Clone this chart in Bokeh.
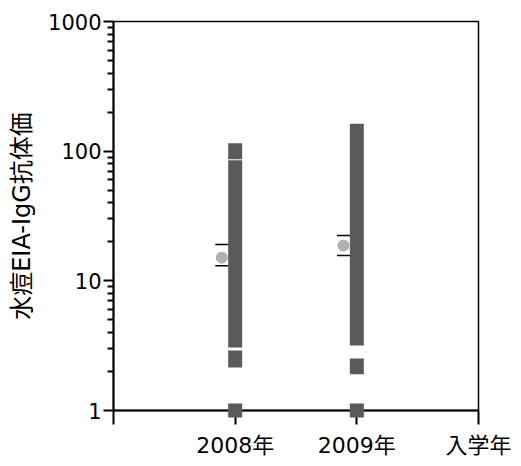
from bokeh.plotting import figure
from bokeh.models import FixedTicker, Range1d
from bokeh.transform import dodge
from bokeh.embed import file_html
from bokeh.resources import INLINE

# ---- data ----
x_ticks = [0, 1, 2, 3]
x_tick_labels = ["", "2008年", "2009年", "入学年"]
y_ticks = [1, 10, 100, 1000]
y_tick_labels = ["1", "10", "100", "1000"]
y_minor_ticks = [2, 3, 4, 5, 6, 7, 8, 9,
                 20, 30, 40, 50, 60, 70, 80, 90,
                 200, 300, 400, 500, 600, 700, 800, 900]

# distribution bars (segments)
bar_x = [1, 1, 1, 2, 2]
bar_bottom = [2.15, 3.06, 86.5, 1.9, 3.17]
bar_top = [2.9, 85.0, 115.0, 2.52, 163.0]

# values at lower limit
base_x = [1, 2]
base_y = [1, 1]

# mean with error
mean_x = [1, 2]
mean_y = [15.1, 18.7]
err_upper = [19.1, 22.4]
err_lower = [13.1, 15.7]

FONT = "'DejaVu Sans', 'Noto Sans CJK JP'"

p = figure(width=521, height=462, y_axis_type="log",
           x_range=Range1d(0, 3), y_range=Range1d(1, 1000),
           output_backend="svg", toolbar_location=None,
           min_border_left=113, min_border_right=43,
           min_border_top=21, min_border_bottom=52)

p.xgrid.visible = False
p.ygrid.visible = False
p.outline_line_color = "black"
p.outline_line_width = 1.5
p.background_fill_color = "white"
p.border_fill_color = "white"

# bars
p.vbar(x=bar_x, bottom=bar_bottom, top=bar_top, width=0.115,
       fill_color="#5a5a5a", line_color=None)

# squares at 1
p.scatter(x=base_x, y=base_y, marker="square", size=14,
          fill_color="#5a5a5a", line_color=None, level="overlay")

# means
src = dict(x=mean_x, y=mean_y, up=err_upper, lo=err_lower)
p.scatter(x=dodge("x", -0.11), y="up", source=src, marker="dash", size=13,
          line_color="black", line_width=1.5)
p.scatter(x=dodge("x", -0.11), y="lo", source=src, marker="dash", size=13,
          line_color="black", line_width=1.5)
p.scatter(x=dodge("x", -0.11), y="y", source=src, marker="circle", size=12,
          fill_color="#b0b0b0", line_color=None)

# x axis
xa = p.xaxis[0]
xa.ticker = FixedTicker(ticks=x_ticks, minor_ticks=[])
xa.major_label_overrides = {t: l for t, l in zip(x_ticks, x_tick_labels)}
xa.major_tick_out = 14
xa.major_tick_in = 0
xa.minor_tick_out = 0
xa.major_tick_line_width = 2
xa.axis_line_width = 2
xa.major_label_standoff = 8
xa.major_label_text_font = FONT
xa.major_label_text_font_size = "22px"
xa.major_label_text_color = "black"

# y axis
ya = p.yaxis[0]
ya.ticker = FixedTicker(ticks=y_ticks, minor_ticks=y_minor_ticks)
ya.major_label_overrides = {t: l for t, l in zip(y_ticks, y_tick_labels)}
ya.major_tick_out = 10
ya.major_tick_in = 0
ya.minor_tick_out = 6
ya.minor_tick_in = 0
ya.major_tick_line_width = 2
ya.minor_tick_line_width = 2
ya.axis_line_width = 2
ya.major_label_standoff = 2
ya.major_label_text_font = FONT
ya.major_label_text_font_size = "21px"
ya.major_label_text_color = "black"
ya.axis_label = "水痘EIA-IgG抗体価"
ya.axis_label_text_font = FONT
ya.axis_label_text_font_size = "24px"
ya.axis_label_text_font_style = "normal"
ya.axis_label_text_color = "black"
ya.axis_label_standoff = 9

open("out.html", "w").write(file_html(p, INLINE))
